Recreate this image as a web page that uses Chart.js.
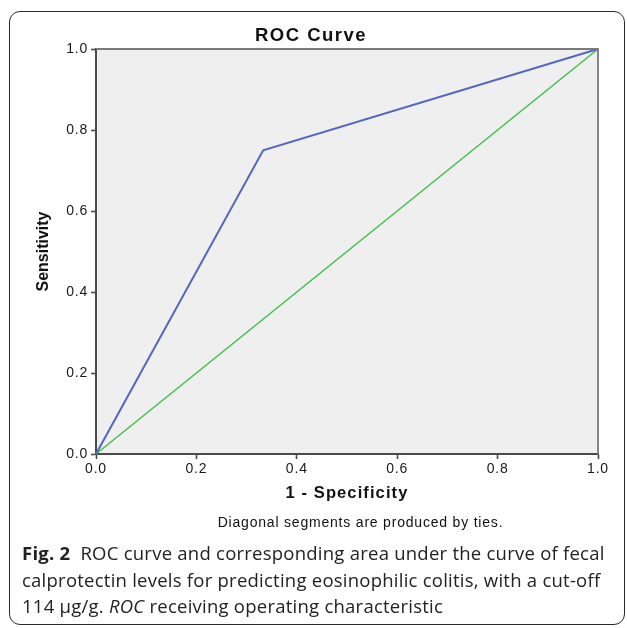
<!DOCTYPE html>
<html>
<head>
<meta charset="utf-8">
<script src="https://cdn.jsdelivr.net/npm/chart.js@4.4.1/dist/chart.umd.min.js"></script>
<style>
  html, body { margin: 0; padding: 0; background: #fff; width: 627px; height: 628px; overflow: hidden; }
  #frame { position: absolute; left: 9px; top: 11px; width: 616px; height: 614px; border: 1.3px solid #2a2a2a; border-radius: 11px; box-sizing: border-box; }
  #wrap { position: absolute; left: 0; top: 0; width: 627px; height: 540px; }
  #note { position: absolute; left: 0; width: 627px; top: 514px; padding-left: 94px; box-sizing: border-box; text-align: center; font-family: "Liberation Sans", Arial, sans-serif; font-size: 14px; letter-spacing: 0.8px; color: #111; }
  #caption { position: absolute; left: 22px; top: 540px; font-family: "Open Sans", "Noto Sans", sans-serif; font-size: 18.5px; line-height: 26.5px; color: #222; letter-spacing: 0.24px; white-space: nowrap; }
  #caption b { font-weight: 700; }
</style>
</head>
<body>
<div id="frame"></div>
<div id="wrap"><canvas id="c" width="627" height="540"></canvas></div>
<div id="note">Diagonal segments are produced by ties.</div>
<div id="caption"><b>Fig. 2</b>&nbsp; ROC curve and corresponding area under the curve of fecal<br>calprotectin levels for predicting eosinophilic colitis, with a cut-off<br>114 μg/g. <i>ROC</i> receiving operating characteristic</div>
<script>
// ---- data ----
const rocX = [0, 0.333, 1];          // 1 - Specificity
const rocY = [0, 0.75, 1];           // Sensitivity
const refX = [0, 1];                 // reference diagonal
const refY = [0, 1];
const tickValues = [0, 0.2, 0.4, 0.6, 0.8, 1.0];
const tickLabels = ['0.0', '0.2', '0.4', '0.6', '0.8', '1.0'];
const chartTitle = 'ROC Curve';
const xTitle = '1 - Specificity';
const yTitle = 'Sensitivity';

const toPts = (xs, ys) => xs.map((x, i) => ({ x: x, y: ys[i] }));
const labelFor = v => { const i = tickValues.findIndex(t => Math.abs(t - v) < 1e-6); return i >= 0 ? tickLabels[i] : ''; };

function withSpacing(ctx, obj, method, ls) {
  if (!obj || obj['_ls_' + method]) return;
  const orig = obj[method];
  obj[method] = function () {
    const prev = ctx.letterSpacing;
    ctx.letterSpacing = ls;
    const r = orig.apply(this, arguments);
    ctx.letterSpacing = prev;
    return r;
  };
  obj['_ls_' + method] = true;
}

const plotBg = {
  id: 'plotBg',
  beforeDraw(chart) {
    const { ctx, chartArea: a } = chart;
    ctx.save();
    ctx.fillStyle = '#efefef';
    ctx.fillRect(a.left, a.top, a.right - a.left, a.bottom - a.top);
    ctx.restore();
    withSpacing(ctx, chart.titleBlock, 'draw', '1.5px');
    withSpacing(ctx, chart.scales.x, 'drawTitle', '1.1px');
    withSpacing(ctx, chart.scales.x, 'drawLabels', '0.8px');
    withSpacing(ctx, chart.scales.y, 'drawLabels', '0.8px');
  },
  afterDraw(chart) {
    const { ctx, chartArea: a } = chart;
    ctx.save();
    ctx.strokeStyle = '#7a7a7a';
    ctx.lineWidth = 1.8;
    ctx.beginPath();
    ctx.moveTo(a.left, a.top); ctx.lineTo(a.right, a.top); ctx.lineTo(a.right, a.bottom);
    ctx.stroke();
    ctx.restore();
  }
};

const tickFont = { family: '"Liberation Sans", Arial, sans-serif', size: 14 };
const xTitleFont = { family: '"Liberation Sans", Arial, sans-serif', size: 16.5, weight: 'bold', lineHeight: 1.2 };
const yTitleFont = { family: '"Liberation Sans", Arial, sans-serif', size: 16, weight: 'bold', lineHeight: 1.2 };

new Chart(document.getElementById('c'), {
  type: 'scatter',
  data: {
    datasets: [
      { data: toPts(rocX, rocY), showLine: true, borderColor: '#5566c2', borderWidth: 2, pointRadius: 0, fill: false, tension: 0, clip: false },
      { data: toPts(refX, refY), showLine: true, borderColor: '#42c24e', borderWidth: 1.6, pointRadius: 0, fill: false, tension: 0, clip: false }
    ]
  },
  plugins: [plotBg],
  options: {
    responsive: false,
    animation: false,
    events: [],
    layout: { padding: { left: 24, right: 29, top: 0, bottom: 0 } },
    plugins: {
      legend: { display: false },
      tooltip: { enabled: false },
      title: { display: true, text: chartTitle, color: '#111', font: { family: '"Liberation Sans", Arial, sans-serif', size: 18.5, weight: 'bold', lineHeight: 1.2 }, padding: { top: 24.5, bottom: 2.3 } }
    },
    scales: {
      x: {
        type: 'linear', min: 0, max: 1,
        afterFit(s) { s.height = 86; },
        afterBuildTicks(s) { s.ticks = tickValues.map(v => ({ value: v })); },
        ticks: { callback: v => labelFor(v), color: '#1a1a1a', font: tickFont, padding: 2, maxRotation: 0 },
        grid: { drawOnChartArea: false, drawTicks: true, tickLength: 5, tickWidth: 1.6, tickColor: '#4a4a4a' },
        border: { display: true, color: '#4a4a4a', width: 2 },
        title: { display: true, text: xTitle, color: '#111', font: xTitleFont, padding: { top: 0, bottom: 37 } }
      },
      y: {
        type: 'linear', min: 0, max: 1,
        afterFit(s) { s.width = 72; },
        afterBuildTicks(s) { s.ticks = tickValues.map(v => ({ value: v })); },
        ticks: { callback: v => labelFor(v), color: '#1a1a1a', font: tickFont, padding: 3 },
        grid: { drawOnChartArea: false, drawTicks: true, tickLength: 5, tickWidth: 1.6, tickColor: '#4a4a4a' },
        border: { display: true, color: '#4a4a4a', width: 2 },
        title: { display: true, text: yTitle, color: '#111', font: yTitleFont, padding: { top: 10.4, bottom: 0 } }
      }
    }
  }
});
</script>
</body>
</html>
